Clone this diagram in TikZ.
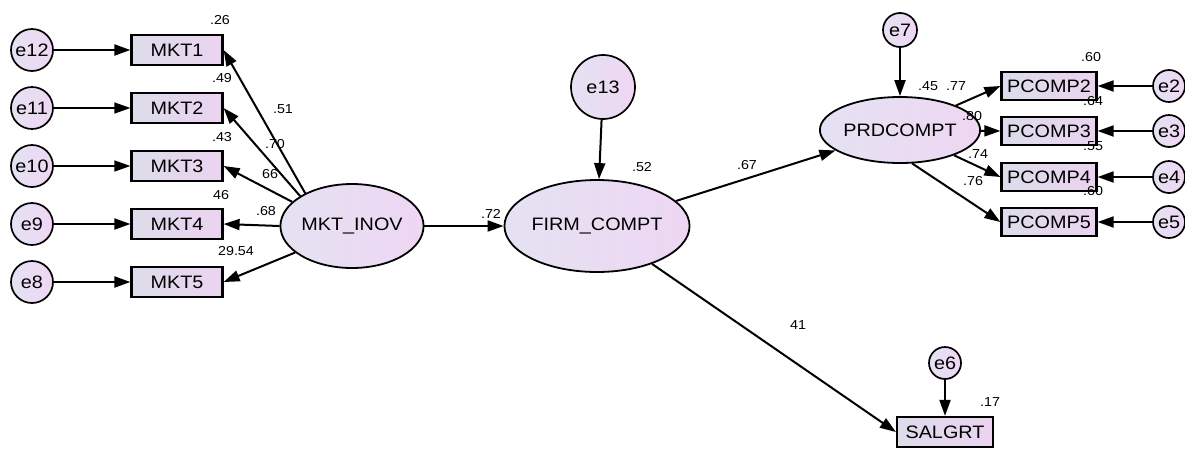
\documentclass[tikz,border=0pt]{standalone}
\usepackage{fontspec}
\setmainfont[FakeStretch=1.1]{Liberation Sans}
\usetikzlibrary{arrows.meta,shapes.geometric}
\definecolor{boxL}{HTML}{DCDCEA}
\definecolor{boxR}{HTML}{EBD3F0}
\definecolor{cirL}{HTML}{E4E2F2}
\definecolor{cirR}{HTML}{EFD6F3}
\begin{document}
\begin{tikzpicture}[x=1pt,y=-1pt,
 arr/.style={line width=2pt,-{Triangle[length=16pt,width=11pt]}},
 tarr/.style={line width=1.3pt,-{Triangle[length=16pt,width=11pt]}},
 obs/.style={draw,line width=2.2pt,rectangle,minimum width=91pt,minimum height=30pt,inner sep=0pt,left color=boxL,right color=boxR,font=\fontsize{18}{18}\selectfont},
 err/.style={draw,circle,line width=1.7pt,inner sep=0pt,left color=cirL,right color=cirR,font=\fontsize{18}{18}\selectfont},
 lat/.style={draw,ellipse,line width=1.8pt,inner sep=0pt,left color=cirL,right color=cirR,font=\fontsize{18}{18}\selectfont},
 lab/.style={inner sep=0pt,font=\fontsize{13}{13}\selectfont}
]
\useasboundingbox (0,0) rectangle (1185,448);
% left block
\node[err,minimum size=42pt] (e12) at (32,50) {e12};
\node[err,minimum size=42pt] (e11) at (32,108) {e11};
\node[err,minimum size=42pt] (e10) at (32,166) {e10};
\node[err,minimum size=42pt] (e9) at (32,224) {e9};
\node[err,minimum size=42pt] (e8) at (32,282) {e8};
\node[obs] (m1) at (177,50) {MKT1};
\node[obs] (m2) at (177,108) {MKT2};
\node[obs] (m3) at (177,166) {MKT3};
\node[obs] (m4) at (177,224) {MKT4};
\node[obs] (m5) at (177,282) {MKT5};
\node[lat,minimum width=142pt,minimum height=84pt] (mi) at (352,226) {MKT\_INOV};
\node[lat,minimum width=156pt,minimum height=92pt] (fc) at (597,226) {FIRM\_COMPT};
\node[err,minimum size=64pt] (e13) at (603,87) {e13};
\node[lat,minimum width=116pt,minimum height=66pt] (pr) at (900,130) {PRDCOMPT};
\node[err,minimum size=34pt] (e7) at (900,30) {e7};
\node[obs,minimum width=95pt,minimum height=28pt] (p2) at (1049,86) {PCOMP2};
\node[obs,minimum width=95pt,minimum height=28pt] (p3) at (1049,131) {PCOMP3};
\node[obs,minimum width=95pt,minimum height=28pt] (p4) at (1049,177) {PCOMP4};
\node[obs,minimum width=95pt,minimum height=28pt] (p5) at (1049,222) {PCOMP5};
\node[err,minimum size=32pt] (e2) at (1169,86) {e2};
\node[err,minimum size=32pt] (e3) at (1169,131) {e3};
\node[err,minimum size=32pt] (e4) at (1169,177) {e4};
\node[err,minimum size=32pt] (e5) at (1169,222) {e5};
\node[obs,minimum width=96pt] (sg) at (945,432) {SALGRT};
\node[err,minimum size=32pt] (e6) at (945,363) {e6};
% connectors
\draw[arr] (e12) -- (m1);
\draw[tarr] (e11) -- (m2);
\draw[tarr] (e10) -- (m3);
\draw[arr] (e9) -- (m4);
\draw[arr] (e8) -- (m5);
\draw[arr] (mi.145) -- (m1.east);
\draw[arr] (mi.150) -- (m2.east);
\draw[arr] (mi.158) -- (m3.east);
\draw[arr] (mi.west) -- (m4.east);
\draw[arr] (mi.205) -- (m5.east);
\draw[arr] (mi) -- (fc);
\draw[arr] (e13) -- (fc);
\draw[arr] (fc) -- (pr);
\draw[arr] (fc) -- (sg.west);
\draw[arr] (e7) -- (pr);
\draw[arr] (e6) -- (sg);
\draw[arr] (pr) -- (p2.west);
\draw[arr] (pr) -- (p3.west);
\draw[arr] (pr) -- (p4.west);
\draw[arr] (pr.-70) -- (p5.west);
\draw[arr] (e2) -- (p2);
\draw[arr] (e3) -- (p3);
\draw[arr] (e4) -- (p4);
\draw[arr] (e5) -- (p5);
% labels
\node[lab] (l1) at (220,20) {.26};
\node[lab] (l2) at (222,78) {.49};
\node[lab] (l3) at (222,137) {.43};
\node[lab] (l4) at (221,195) {46};
\node[lab] (l5) at (236,251) {29.54};
\node[lab] (l6) at (283,109) {.51};
\node[lab] (l7) at (275,144) {.70};
\node[lab] (l8) at (270,174) {66};
\node[lab] (l9) at (266,211) {.68};
\node[lab] (l10) at (491,214) {.72};
\node[lab] (l11) at (642,167) {.52};
\node[lab] (l12) at (747,165) {.67};
\node[lab] (l13) at (928,86) {.45};
\node[lab] (l14) at (956,86) {.77};
\node[lab] (l15) at (972,116) {.80};
\node[lab] (l16) at (978,154) {.74};
\node[lab] (l17) at (973,181) {.76};
\node[lab] (l18) at (1091,57) {.60};
\node[lab] (l19) at (1093,101) {.64};
\node[lab] (l20) at (1093,146) {.55};
\node[lab] (l21) at (1093,191) {.60};
\node[lab] (l22) at (798,325) {41};
\node[lab] (l23) at (990,402) {.17};
\end{tikzpicture}
\end{document}
